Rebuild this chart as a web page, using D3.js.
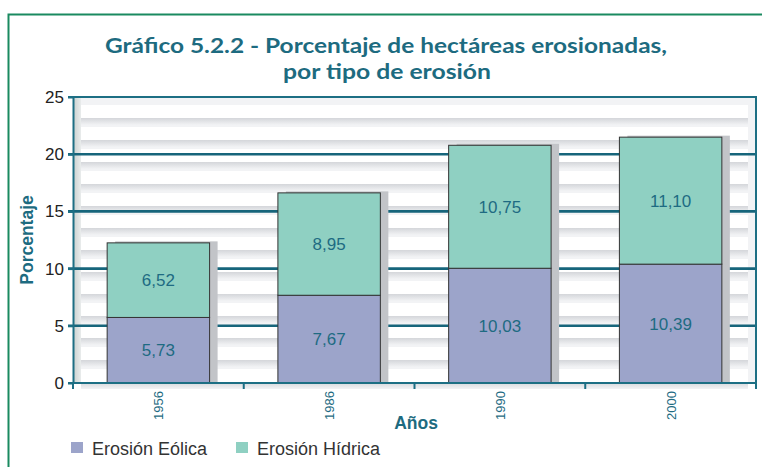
<!DOCTYPE html>
<html><head><meta charset="utf-8">
<script src="https://cdn.jsdelivr.net/npm/d3@7"></script>
<style>body{margin:0;background:#fff;} svg{display:block;}</style>
</head><body>
<script>
const categories = ["1956", "1986", "1990", "2000"];
const eolica = [5.73, 7.67, 10.03, 10.39];
const hidrica = [6.52, 8.95, 10.75, 11.10];
const yTicks = [0, 5, 10, 15, 20, 25];
const seriesNames = ["Erosión Eólica", "Erosión Hídrica"];
const titleLines = ["Gráfico 5.2.2 - Porcentaje de hectáreas erosionadas,", "por tipo de erosión"];

const W = 762, H = 467;
const colors = ["#9ca4ca", "#8fd0c2"];
const teal = "#1d6b80";
const fmt = v => v.toFixed(2).replace(".", ",");

const svg = d3.select("body").append("svg").attr("width", W).attr("height", H);
const defs = svg.append("defs");

// frame
svg.append("rect").attr("x", 8.5).attr("y", 14.5).attr("width", W + 10).attr("height", H + 10)
  .attr("fill", "none").attr("stroke", "#1a8a60").attr("stroke-width", 2);

// title
svg.append("text").attr("x", 386).attr("y", 53).attr("text-anchor", "middle")
  .attr("font-family", "Lato").attr("font-weight", "bold").attr("font-size", 21.5)
  .attr("fill", teal).attr("textLength", 562).attr("lengthAdjust", "spacingAndGlyphs")
  .text(titleLines[0]);
svg.append("text").attr("x", 387).attr("y", 79).attr("text-anchor", "middle")
  .attr("font-family", "Lato").attr("font-weight", "bold").attr("font-size", 21.5)
  .attr("fill", teal).attr("textLength", 208).attr("lengthAdjust", "spacingAndGlyphs")
  .text(titleLines[1]);

const L = 73, R = 756, T = 97, B = 383;
const x = d3.scaleBand().domain(categories).range([L, R]).paddingInner(0.4).paddingOuter(0.2);
const xb = d3.scaleBand().domain(categories).range([L, R]);
const y = d3.scaleLinear().domain([0, 25]).range([B, T]);

// plot background
svg.append("rect").attr("x", L).attr("y", T).attr("width", R - L).attr("height", B - T).attr("fill", "#f2f3f5");
const lg = defs.append("linearGradient").attr("id", "wall").attr("x1", 0).attr("x2", 1).attr("y1", 0).attr("y2", 0);
lg.append("stop").attr("offset", 0).attr("stop-color", "#c9d0ce");
lg.append("stop").attr("offset", 1).attr("stop-color", "#e9ecec");
svg.append("rect").attr("x", L).attr("y", T).attr("width", 8).attr("height", B - T).attr("fill", "url(#wall)");
const sg = defs.append("linearGradient").attr("id", "sh").attr("x1", 0).attr("x2", 0).attr("y1", 0).attr("y2", 1);
sg.append("stop").attr("offset", 0).attr("stop-color", "#d4d6da");
sg.append("stop").attr("offset", 1).attr("stop-color", "#f2f3f5");
const nStripes = 13;
const step = (B - T) / nStripes;
for (let i = 0; i < nStripes; i++) {
  const sy = T + 8 + i * step;
  svg.append("rect").attr("x", 81).attr("y", sy + 13).attr("width", R - 8 - 81).attr("height", 7).attr("fill", "url(#sh)");
  svg.append("rect").attr("x", 81).attr("y", sy).attr("width", R - 8 - 81).attr("height", 13).attr("fill", "#ffffff");
}

// gridlines
const gl = [5, 10, 15, 20];
svg.selectAll(".grid").data(gl).enter().append("line")
  .attr("x1", L - 5).attr("x2", R).attr("y1", d => y(d)).attr("y2", d => y(d))
  .attr("stroke", "#16657b").attr("stroke-width", 2.6);
// top & right border
svg.append("line").attr("x1", L - 5).attr("x2", R + 1).attr("y1", T).attr("y2", T).attr("stroke", "#1d6f84").attr("stroke-width", 2);
svg.append("line").attr("x1", R).attr("x2", R).attr("y1", T).attr("y2", B).attr("stroke", "#1d6f84").attr("stroke-width", 2);

// bars
const stack = categories.map((c, i) => ({c, e: eolica[i], h: hidrica[i]}));
const g = svg.append("g");
stack.forEach(d => {
  const bx = x(d.c), bw = x.bandwidth();
  const top = y(d.e + d.h);
  g.append("rect").attr("x", bx + 8).attr("y", top - 1.5).attr("width", bw).attr("height", B - top + 1.5).attr("fill", "#c2c4c8");
  g.append("rect").attr("x", bx).attr("y", y(d.e)).attr("width", bw).attr("height", B - y(d.e))
    .attr("fill", colors[0]).attr("stroke", "#333").attr("stroke-width", 1);
  g.append("rect").attr("x", bx).attr("y", top).attr("width", bw).attr("height", y(d.e) - top)
    .attr("fill", colors[1]).attr("stroke", "#333").attr("stroke-width", 1);
  g.append("text").attr("x", bx + bw / 2).attr("y", y(d.e / 2)).attr("dy", "0.36em").attr("text-anchor", "middle")
    .attr("font-family", "Liberation Sans").attr("font-size", 17).attr("fill", "#1e6b82").text(fmt(d.e));
  g.append("text").attr("x", bx + bw / 2).attr("y", y(d.e + d.h / 2)).attr("dy", "0.36em").attr("text-anchor", "middle")
    .attr("font-family", "Liberation Sans").attr("font-size", 17).attr("fill", "#1e6b82").text(fmt(d.h));
});

// y axis
const ya = svg.append("g").attr("transform", `translate(${L},0)`)
  .call(d3.axisLeft(y).tickValues(yTicks).tickSize(5).tickSizeOuter(0).tickFormat(d3.format("d")));
ya.select(".domain").attr("stroke", "#1d6f84").attr("stroke-width", 2);
ya.selectAll(".tick line").attr("stroke", "#1d6f84").attr("stroke-width", 2);
ya.selectAll(".tick text").attr("font-family", "Liberation Sans").attr("font-size", 17).attr("fill", "#222").attr("x", -9);

// x axis
svg.append("line").attr("x1", L - 5).attr("x2", R + 1).attr("y1", B).attr("y2", B).attr("stroke", "#1d6f84").attr("stroke-width", 2);
const bounds = categories.map(c => xb(c)).concat([R]);
svg.selectAll(".xt").data(bounds).enter().append("line")
  .attr("x1", d => d).attr("x2", d => d).attr("y1", B).attr("y2", B + 6).attr("stroke", "#1d6f84").attr("stroke-width", 2);
svg.selectAll(".xl").data(categories).enter().append("text")
  .attr("transform", d => `translate(${xb(d) + xb.bandwidth() / 2 + 5},391) rotate(-90)`)
  .attr("text-anchor", "end").attr("font-family", "Liberation Sans").attr("font-size", 13).attr("fill", "#1e6b82").text(d => d);

// axis titles
svg.append("text").attr("x", 416).attr("y", 429).attr("text-anchor", "middle")
  .attr("font-family", "Liberation Sans").attr("font-weight", "bold").attr("font-size", 17.5).attr("fill", teal).text("Años");
svg.append("text").attr("transform", "translate(33,240) rotate(-90)").attr("text-anchor", "middle")
  .attr("font-family", "Liberation Sans").attr("font-weight", "bold").attr("font-size", 17.5).attr("fill", teal).text("Porcentaje");

// legend
const legX = [71, 236];
seriesNames.forEach((n, i) => {
  svg.append("rect").attr("x", legX[i]).attr("y", 442).attr("width", 12).attr("height", 11).attr("fill", colors[i]);
  svg.append("text").attr("x", legX[i] + 21).attr("y", 455).attr("font-family", "Liberation Sans").attr("font-size", 18).attr("fill", "#333").text(n);
});
</script>
</body></html>
